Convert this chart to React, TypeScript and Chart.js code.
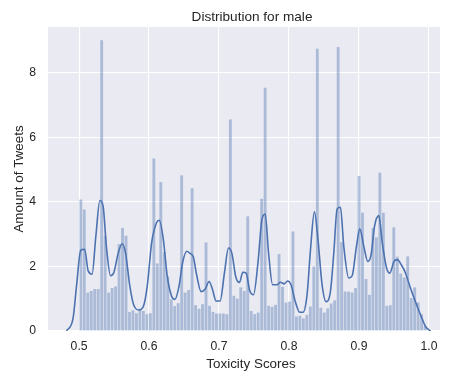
import React, { useEffect, useRef } from "react";
import { Chart, registerables } from "chart.js";
Chart.register(...registerables);

// Histogram bins (density), 100 bins starting at 0.5
const binStart = 0.5;
const binWidth = 0.00497;
const binHeights = [
  4.07, 3.76, 1.19, 1.24, 1.3, 1.3, 9.0, 2.95, 1.19, 1.33,
  1.38, 2.69, 3.19, 2.95, 0.59, 0.64, 0.55, 0.69, 0.62, 0.52,
  0.55, 5.34, 2.09, 4.61, 2.44, 1.69, 0.98, 0.77, 0.86, 4.82,
  1.19, 1.27, 4.42, 0.8, 0.69, 0.83, 2.74, 0.78, 0.59, 0.54,
  0.54, 0.54, 0.52, 6.55, 1.09, 1.0, 1.35, 1.24, 3.55, 0.62,
  0.52, 0.57, 4.09, 7.53, 0.78, 0.75, 0.81, 2.38, 1.37, 0.88,
  0.91, 3.08, 0.45, 0.47, 0.39, 0.5, 0.76, 2.0, 8.74, 0.72,
  0.57, 0.7, 0.85, 0.95, 8.79, 2.75, 1.22, 1.22, 1.19, 1.33,
  4.8, 3.66, 1.61, 1.12, 3.19, 2.9, 4.9, 3.66, 0.78, 0.8,
  3.21, 2.3, 1.78, 1.66, 2.31, 1.02, 1.35, 0.88, 0.52, 0.16,
];

// KDE curve
const kdeX = [
  0.482, 0.4914, 0.4963, 0.5024, 0.508, 0.513, 0.5186, 0.524, 0.5297, 0.5344,
  0.539, 0.545, 0.5497, 0.5559, 0.5616, 0.5664, 0.5726, 0.578, 0.5855, 0.5917,
  0.5974, 0.6037, 0.6108, 0.6146, 0.6204, 0.626, 0.6324, 0.637, 0.6428, 0.648,
  0.654, 0.6586, 0.6633, 0.668, 0.6744, 0.68, 0.6858, 0.6906, 0.6958, 0.7016,
  0.7077, 0.7135, 0.7183, 0.724, 0.7292, 0.734, 0.7388, 0.7436, 0.7493, 0.7556,
  0.7613, 0.766, 0.7708, 0.7766, 0.7828, 0.7876, 0.7933, 0.798, 0.8029, 0.809,
  0.8152, 0.82, 0.8258, 0.8305, 0.8363, 0.841, 0.8473, 0.853, 0.8592, 0.864,
  0.8688, 0.8735, 0.8783, 0.8854, 0.8903, 0.8964, 0.9012, 0.9069, 0.9126, 0.9175,
  0.9222, 0.9284, 0.9332, 0.9394, 0.9441, 0.9499, 0.9547, 0.9605, 0.9666, 0.9713,
  0.977, 0.9834, 0.9891, 0.9953, 1.0024,
];
const kdeY = [
  0, 0.39, 1.38, 2.5, 2.53, 1.86, 1.76, 2.94, 4.04, 3.86,
  2.62, 1.71, 1.81, 2.41, 2.7, 2.41, 1.38, 0.81, 0.65, 0.75,
  1.38, 2.73, 3.36, 3.43, 2.84, 1.7, 1.07, 0.98, 1.38, 2.12,
  2.47, 2.4, 2.29, 1.74, 1.22, 1.29, 1.53, 1.29, 0.93, 0.93,
  1.79, 2.57, 2.41, 1.67, 1.5, 1.82, 1.79, 1.27, 1.12, 2.1,
  3.45, 3.62, 2.41, 1.43, 1.43, 1.51, 1.46, 1.55, 1.43, 0.91,
  0.58, 0.58, 1.12, 2.45, 3.69, 2.93, 1.43, 0.91, 1.22, 2.41,
  3.78, 3.83, 2.62, 1.64, 1.71, 2.62, 3.16, 2.62, 2.15, 2.38,
  3.24, 3.57, 2.74, 1.95, 1.79, 2.15, 2.21, 2.05, 1.79, 1.48,
  1.12, 0.75, 0.44, 0.13, 0,
];

const xTicks = [0.5, 0.6, 0.7, 0.8, 0.9, 1.0];
const yTicks = [0, 2, 4, 6, 8];
const titleText = "Distribution for male";
const xLabel = "Toxicity Scores";
const yLabel = "Amount of Tweets";

export default function App() {
  const ref = useRef<HTMLCanvasElement>(null);
  useEffect(() => {
    document.body.style.margin = "0";
    const FONT = "'Liberation Sans', Arial, 'DejaVu Sans', sans-serif";
    const TEXT = "#262626";
    const bgPlugin = {
      id: "bg",
      beforeDraw(chart: any) {
        const { ctx, chartArea: a } = chart;
        ctx.save();
        ctx.fillStyle = "#ffffff";
        ctx.fillRect(0, 0, chart.width, chart.height);
        ctx.fillStyle = "#EAEAF2";
        ctx.fillRect(a.left, a.top, a.right - a.left, a.bottom - a.top);
        ctx.restore();
      },
    };
    const labelPlugin = {
      id: "labels",
      afterDraw(chart: any) {
        const { ctx, chartArea: a } = chart;
        const cy = (a.top + a.bottom) / 2;
        ctx.save();
        ctx.fillStyle = TEXT;
        ctx.textAlign = "center";
        ctx.textBaseline = "alphabetic";
        ctx.font = `13.6px ${FONT}`;
        ctx.fillText(titleText, 252, 20.5);
        ctx.font = `13.4px ${FONT}`;
        ctx.fillText(xLabel, 251, 368);
        ctx.translate(23, cy);
        ctx.rotate(-Math.PI / 2);
        ctx.fillText(yLabel, 0, 0);
        ctx.restore();
      },
    };
    const chart = new Chart(ref.current!, {
      type: "bar",
      data: {
        datasets: [
          {
            type: "line",
            data: kdeX.map((x, i) => ({ x, y: kdeY[i] })),
            borderColor: "#4C72B0",
            borderWidth: 1.6,
            pointRadius: 0,
            cubicInterpolationMode: "monotone",
            order: 0,
          } as any,
          {
            type: "bar",
            data: binHeights.map((h, i) => ({ x: binStart + (i + 0.5) * binWidth, y: h })),
            backgroundColor: "rgba(76,114,176,0.4)",
            borderWidth: 0,
            barPercentage: 0.82,
            categoryPercentage: 1,
            order: 1,
          } as any,
        ],
      },
      options: {
        animation: false,
        responsive: false,
        maintainAspectRatio: false,
        layout: { padding: { top: 27, right: 13, bottom: 0, left: 0 } },
        plugins: { legend: { display: false }, tooltip: { enabled: false }, title: { display: false } },
        scales: {
          x: {
            type: "linear",
            min: 0.4556,
            max: 1.0158,
            offset: false,
            afterBuildTicks: (s: any) => {
              s.ticks = xTicks.map((v) => ({ value: v }));
            },
            afterFit: (s: any) => {
              s.height = 47;
            },
            ticks: {
              callback: (v: any) => Number(v).toFixed(1),
              font: { size: 12.2, family: FONT },
              color: TEXT,
              padding: 8,
              maxRotation: 0,
              autoSkip: false,
            },
            grid: { color: "#ffffff", lineWidth: 1.1, drawTicks: false, offset: false },
            border: { display: false },
          },
          y: {
            type: "linear",
            min: 0,
            max: 9.41,
            afterBuildTicks: (s: any) => {
              s.ticks = yTicks.map((v) => ({ value: v }));
            },
            afterFit: (s: any) => {
              s.width = 48;
            },
            ticks: {
              font: { size: 12.2, family: FONT },
              color: TEXT,
              padding: 12,
            },
            grid: { color: "#ffffff", lineWidth: 1.1, drawTicks: false },
            border: { display: false },
          },
        },
      } as any,
      plugins: [bgPlugin, labelPlugin],
    });
    return () => chart.destroy();
  }, []);
  return (
    <div style={{ position: "absolute", left: 0, top: 0, width: 453, height: 378 }}>
      <canvas ref={ref} width={453} height={378} style={{ display: "block", width: 453, height: 378 }} />
    </div>
  );
}
